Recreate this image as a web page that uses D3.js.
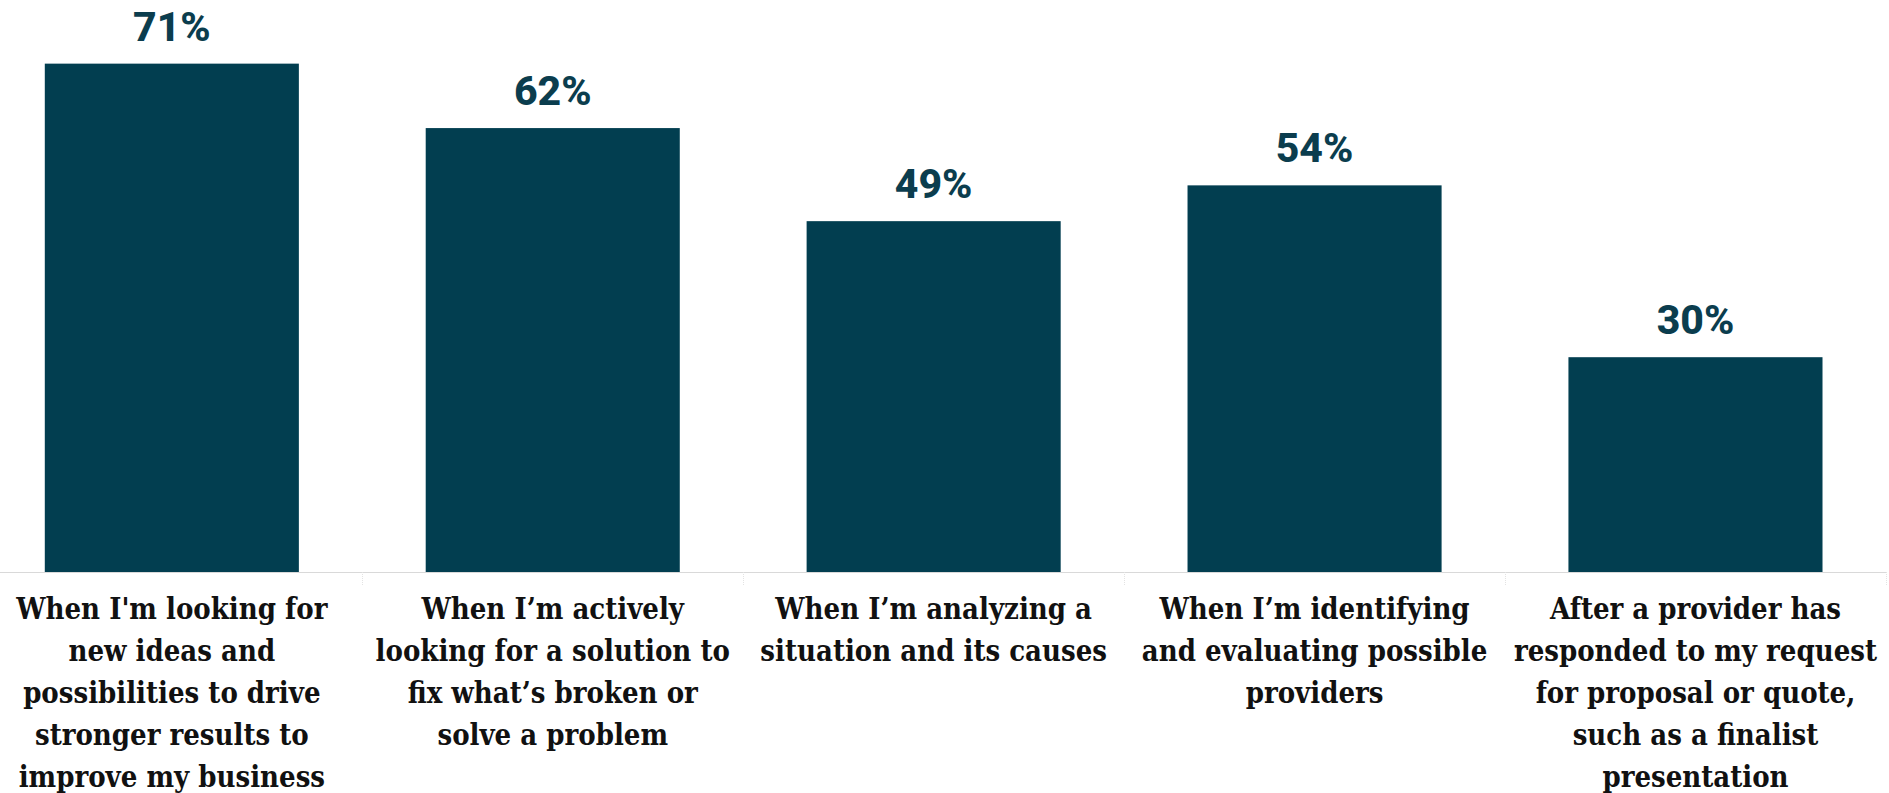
<!DOCTYPE html>
<html>
<head>
<meta charset="utf-8">
<script src="https://cdn.jsdelivr.net/npm/d3@7"></script>
<style>
  html, body { margin: 0; padding: 0; background: #ffffff; }
  svg { display: block; }
</style>
</head>
<body>
<svg id="chart" width="1889" height="793"></svg>
<script>
// Survey responses: share of respondents per stage
const categories = [
  "When I'm looking for new ideas and possibilities to drive stronger results to improve my business",
  "When I’m actively looking for a solution to fix what’s broken or solve a problem",
  "When I’m analyzing a situation and its causes",
  "When I’m identifying and evaluating possible providers",
  "After a provider has responded to my request for proposal or quote, such as a finalist presentation"
];
const categoryLines = [
  ["When I'm looking for", "new ideas and", "possibilities to drive", "stronger results to", "improve my business"],
  ["When I’m actively", "looking for a solution to", "fix what’s broken or", "solve a problem"],
  ["When I’m analyzing a", "situation and its causes"],
  ["When I’m identifying", "and evaluating possible", "providers"],
  ["After a provider has", "responded to my request", "for proposal or quote,", "such as a finalist", "presentation"]
];
const values = [71, 62, 49, 54, 30];

const barColor = "#023e50";
const labelColor = "#0b3d4e";

const svg = d3.select("#chart");
const baseY = 572;

const x = d3.scaleBand()
  .domain(categories)
  .range([-18.7, 1886])
  .paddingInner(0.333)
  .paddingOuter(0.1667);

const y = d3.scaleLinear()
  .domain([0, 100])
  .range([baseY, baseY - 716]);

// Bars
svg.append("g")
  .selectAll("rect")
  .data(values)
  .join("rect")
  .attr("x", (d, i) => x(categories[i]))
  .attr("y", d => y(d))
  .attr("width", x.bandwidth())
  .attr("height", d => y(0) - y(d))
  .attr("fill", barColor);

// Value labels
svg.append("g")
  .selectAll("text")
  .data(values)
  .join("text")
  .attr("x", (d, i) => x(categories[i]) + x.bandwidth() / 2)
  .attr("y", d => y(d) - 23)
  .attr("text-anchor", "middle")
  .attr("font-family", "Roboto, sans-serif")
  .attr("font-weight", 800)
  .attr("font-size", 41)
  .attr("fill", labelColor)
  .text(d => d + "%");

// Baseline and category dividers
const step = x.step();
const axis = svg.append("g");
axis.append("line")
  .attr("x1", 0).attr("x2", 1886)
  .attr("y1", baseY + 0.5).attr("y2", baseY + 0.5)
  .attr("stroke", "#d9d9d9")
  .attr("stroke-width", 1);
const edges = d3.range(categories.length + 1).map(i =>
  x(categories[0]) + x.bandwidth() / 2 - step / 2 + i * step);
axis.selectAll("line.div")
  .data(edges.filter(e => e > 0 && e < 1889))
  .join("line")
  .attr("class", "div")
  .attr("x1", d => Math.round(d) + 0.5).attr("x2", d => Math.round(d) + 0.5)
  .attr("y1", baseY).attr("y2", baseY + 14)
  .attr("stroke", "#e3e3e3")
  .attr("stroke-dasharray", "1,1")
  .attr("stroke-width", 1);

// Category labels
const catG = svg.append("g")
  .selectAll("text")
  .data(categoryLines)
  .join("text")
  .attr("text-anchor", "middle")
  .attr("font-family", "'DejaVu Serif', serif")
  .attr("font-stretch", "condensed")
  .attr("font-weight", 700)
  .attr("font-size", 29)
  .attr("fill", "#111111")
  .attr("transform", (d, i) => `translate(${x(categories[i]) + x.bandwidth() / 2},619)`);
catG.selectAll("tspan")
  .data(d => d)
  .join("tspan")
  .attr("x", 0)
  .attr("y", (d, j) => j * 42)
  .text(d => d);
</script>
</body>
</html>
